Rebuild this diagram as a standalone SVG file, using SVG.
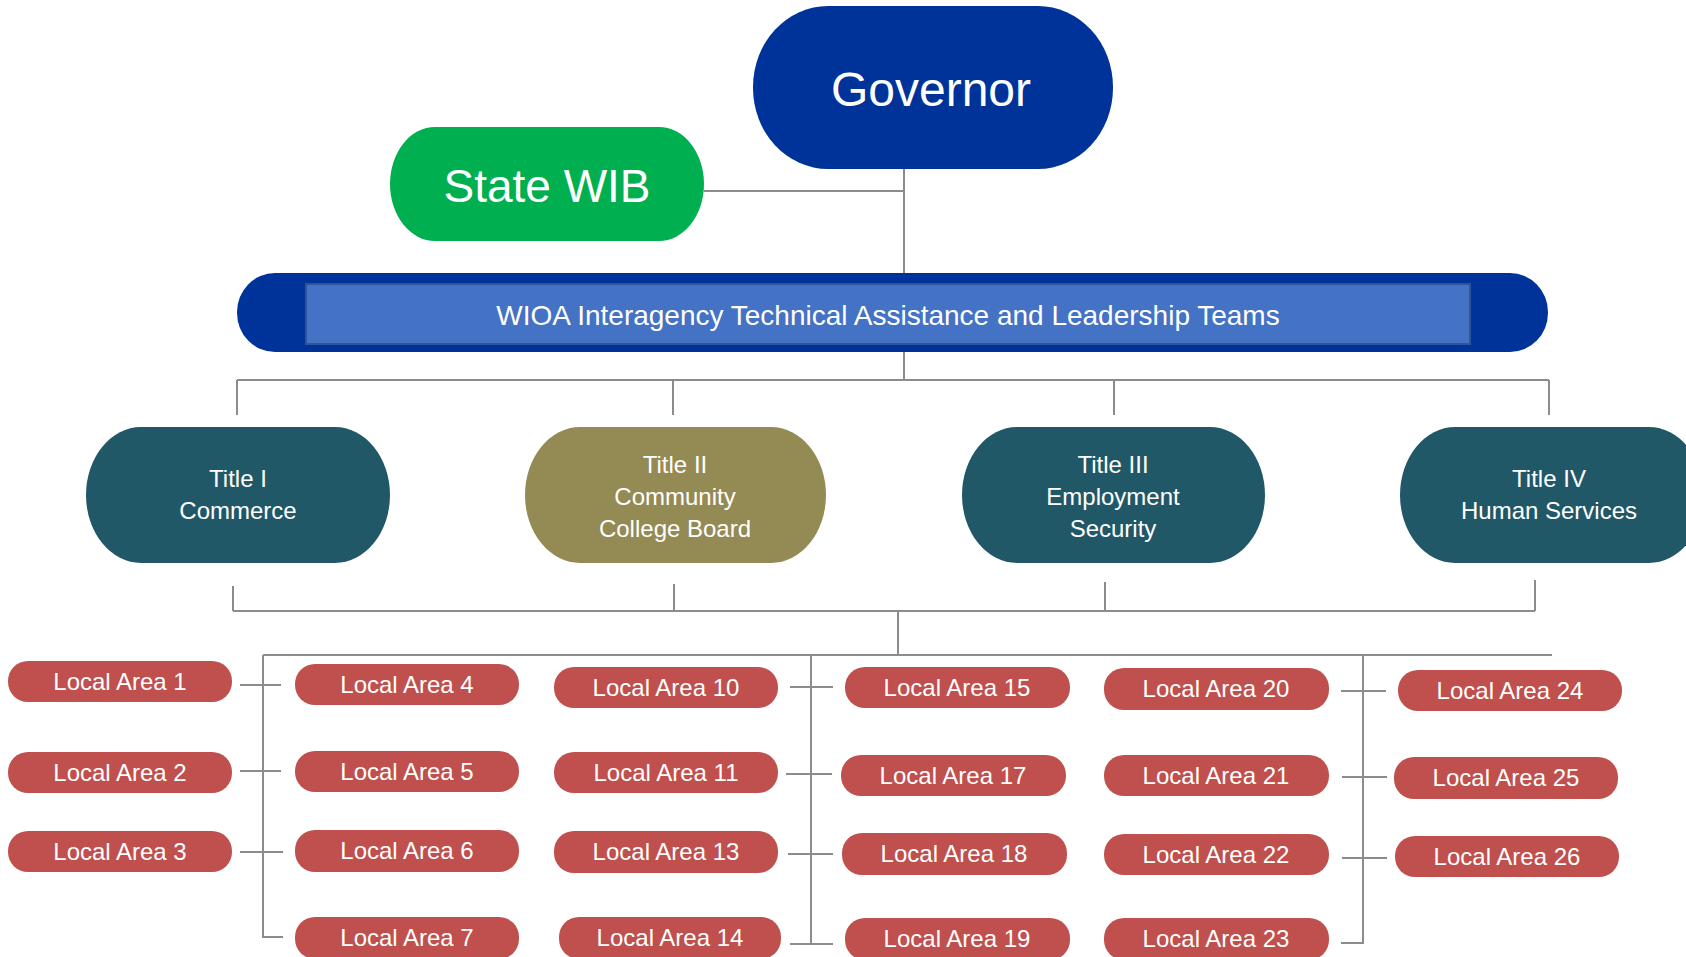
<svg xmlns="http://www.w3.org/2000/svg" width="1686" height="957" viewBox="0 0 1686 957">
<style>
text{font-family:"Liberation Sans",Arial,sans-serif;fill:#fff;text-anchor:middle}
.conn path{fill:none;stroke:#8c8c8c;stroke-width:2}
.la rect{fill:#C0504D}
.la text{font-size:24px}
.title text{font-size:24px}
.teal{fill:#215868}
.olive{fill:#948A54}
</style>
<rect width="1686" height="957" fill="#fff"/>
<g id="connectors" class="conn">
<path d="M904 169V273M704 191H904"/>
<path d="M904 352V380M237 380H1549M237 380V415M673 380V415M1114 380V415M1549 380V415"/>
<path d="M233 586V611M674 584V611M1105 582V611M1535 580V611M233 611H1535M898 611V655"/>
<path d="M263 655H1552"/>
<path d="M263 655V937H283M240 685H281M240 771H281M240 852H283"/>
<path d="M811 655V944M790 687H833M786 774H832M788 854H833M790 944H833"/>
<path d="M1363 655V943H1341M1341 691H1386M1342 777H1387M1342 858H1387"/>
</g>
<g id="governor"><rect x="753" y="6" width="360" height="163" rx="75" ry="81" fill="#003399"/><text x="931" y="106" font-size="48">Governor</text></g>
<g id="state-wib"><rect x="390" y="127" width="314" height="114" rx="45" ry="57" fill="#00B050"/><text x="547" y="202" font-size="46">State WIB</text></g>
<g id="wioa"><rect x="237" y="273" width="1311" height="79" rx="38" ry="39" fill="#003399"/><rect x="306" y="284" width="1164" height="60" fill="#4472C4" stroke="#2F5597" stroke-width="2"/><text x="888" y="325" font-size="28">WIOA Interagency Technical Assistance and Leadership Teams</text></g>
<g id="title1" class="title"><rect class="teal" x="86" y="427" width="304" height="136" rx="55" ry="68"/><text x="238" y="487">Title I</text><text x="238" y="519">Commerce</text></g>
<g id="title2" class="title"><rect class="olive" x="525" y="427" width="301" height="136" rx="55" ry="68"/><text x="675" y="473">Title II</text><text x="675" y="505">Community</text><text x="675" y="537">College Board</text></g>
<g id="title3" class="title"><rect class="teal" x="962" y="427" width="303" height="136" rx="55" ry="68"/><text x="1113" y="473">Title III</text><text x="1113" y="505">Employment</text><text x="1113" y="537">Security</text></g>
<g id="title4" class="title"><rect class="teal" x="1400" y="427" width="304" height="136" rx="55" ry="68"/><text x="1549" y="487">Title IV</text><text x="1549" y="519">Human Services</text></g>
<g id="la1" class="la"><rect x="8" y="661" width="224" height="41" rx="20"/><text x="120" y="690">Local Area 1</text></g>
<g id="la2" class="la"><rect x="8" y="752" width="224" height="41" rx="20"/><text x="120" y="781">Local Area 2</text></g>
<g id="la3" class="la"><rect x="8" y="831" width="224" height="41" rx="20"/><text x="120" y="860">Local Area 3</text></g>
<g id="la4" class="la"><rect x="295" y="664" width="224" height="41" rx="20"/><text x="407" y="693">Local Area 4</text></g>
<g id="la5" class="la"><rect x="295" y="751" width="224" height="41" rx="20"/><text x="407" y="780">Local Area 5</text></g>
<g id="la6" class="la"><rect x="295" y="830" width="224" height="42" rx="20"/><text x="407" y="859">Local Area 6</text></g>
<g id="la7" class="la"><rect x="295" y="917" width="224" height="42" rx="20"/><text x="407" y="946">Local Area 7</text></g>
<g id="la10" class="la"><rect x="554" y="667" width="224" height="41" rx="20"/><text x="666" y="696">Local Area 10</text></g>
<g id="la11" class="la"><rect x="554" y="752" width="224" height="41" rx="20"/><text x="666" y="781">Local Area 11</text></g>
<g id="la13" class="la"><rect x="554" y="831" width="224" height="42" rx="20"/><text x="666" y="860">Local Area 13</text></g>
<g id="la14" class="la"><rect x="559" y="917" width="222" height="42" rx="20"/><text x="670" y="946">Local Area 14</text></g>
<g id="la15" class="la"><rect x="845" y="667" width="225" height="41" rx="20"/><text x="957" y="696">Local Area 15</text></g>
<g id="la17" class="la"><rect x="841" y="755" width="225" height="41" rx="20"/><text x="953" y="784">Local Area 17</text></g>
<g id="la18" class="la"><rect x="842" y="833" width="225" height="42" rx="20"/><text x="954" y="862">Local Area 18</text></g>
<g id="la19" class="la"><rect x="845" y="918" width="225" height="42" rx="20"/><text x="957" y="947">Local Area 19</text></g>
<g id="la20" class="la"><rect x="1104" y="668" width="225" height="42" rx="20"/><text x="1216" y="697">Local Area 20</text></g>
<g id="la21" class="la"><rect x="1104" y="755" width="225" height="41" rx="20"/><text x="1216" y="784">Local Area 21</text></g>
<g id="la22" class="la"><rect x="1104" y="834" width="225" height="41" rx="20"/><text x="1216" y="863">Local Area 22</text></g>
<g id="la23" class="la"><rect x="1104" y="918" width="225" height="42" rx="20"/><text x="1216" y="947">Local Area 23</text></g>
<g id="la24" class="la"><rect x="1398" y="670" width="224" height="41" rx="20"/><text x="1510" y="699">Local Area 24</text></g>
<g id="la25" class="la"><rect x="1394" y="757" width="224" height="42" rx="20"/><text x="1506" y="786">Local Area 25</text></g>
<g id="la26" class="la"><rect x="1395" y="836" width="224" height="41" rx="20"/><text x="1507" y="865">Local Area 26</text></g>
</svg>
